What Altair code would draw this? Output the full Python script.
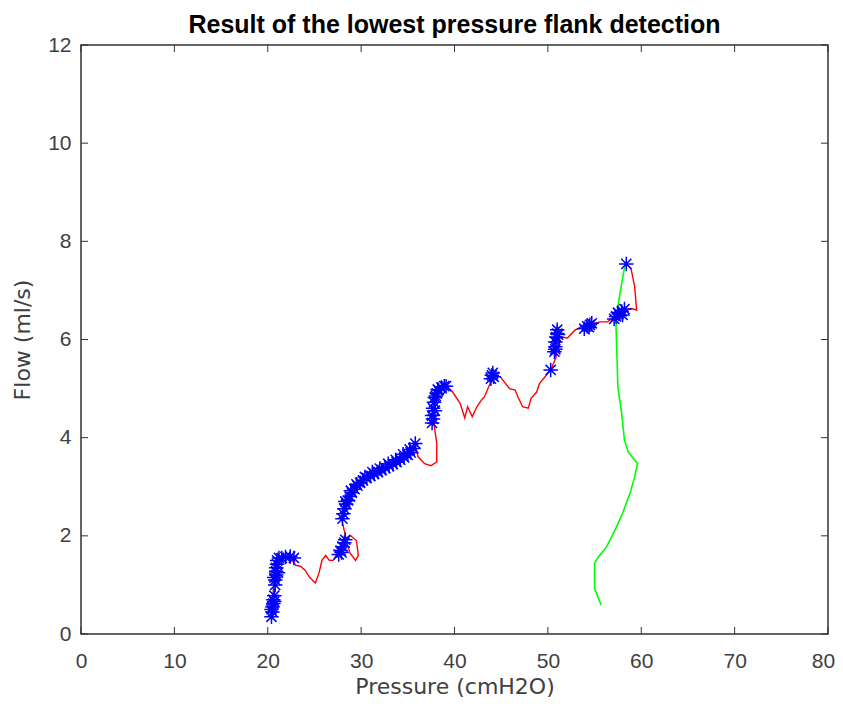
import altair as alt
import pandas as pd

# Red trace (pressure cmH2O, flow ml/s), in drawing order
red_p = [20.4, 20.5, 20.6, 20.8, 20.9, 21.3, 22.0, 22.6, 23.0, 23.5, 24.0, 24.5, 25.1, 25.5, 25.8, 26.2,
         26.6, 27.0, 27.5, 28.0, 28.4, 28.9, 29.5, 29.7, 29.4, 28.8, 28.5, 28.2, 27.9, 28.3, 28.8, 29.3,
         30.0, 30.8, 31.6, 32.4, 33.2, 34.0, 34.8, 35.4, 35.8, 36.1, 36.8, 37.5, 38.1, 38.1, 37.9, 37.8,
         38.0, 38.4, 39.1, 39.8, 40.6, 41.1, 41.4, 41.9, 42.4, 42.9, 43.2, 43.8, 44.1, 44.9, 45.9, 46.5,
         46.8, 47.3, 47.9, 48.2, 48.8, 49.1, 49.7, 50.3, 50.9, 50.8, 51.0, 51.2, 51.3, 52.1, 52.9, 53.5,
         54.2, 55.0, 55.6, 56.4, 57.0, 57.7, 58.5, 58.9, 59.5, 59.3, 58.9, 58.4]
red_f = [0.35, 0.6, 0.9, 1.2, 1.45, 1.55, 1.55, 1.5, 1.4, 1.38, 1.3, 1.15, 1.04, 1.25, 1.5, 1.6,
         1.5, 1.5, 1.65, 1.75, 1.95, 2.0, 1.9, 1.6, 1.5, 1.65, 1.85, 2.1, 2.35, 2.6, 2.8, 2.95,
         3.1, 3.2, 3.3, 3.38, 3.45, 3.55, 3.65, 3.75, 3.85, 3.61, 3.47, 3.43, 3.51, 3.89, 4.15, 4.4,
         4.7, 4.95, 5.07, 4.93, 4.70, 4.40, 4.63, 4.43, 4.63, 4.77, 4.83, 5.1, 5.27, 5.24, 5.0, 4.97,
         4.83, 4.63, 4.6, 4.8, 4.93, 5.1, 5.24, 5.38, 5.65, 5.9, 6.15, 5.9, 6.05, 6.03, 6.19, 6.25,
         6.3, 6.33, 6.36, 6.36, 6.45, 6.53, 6.6, 6.63, 6.6, 7.07, 7.45, 7.54]

# Green trace, in drawing order
green_p = [58.4, 58.2, 57.9, 57.5, 57.3, 57.4, 57.5, 57.9, 58.2, 58.6, 59.0, 59.6, 59.3, 58.8, 58.0,
           57.2, 56.3, 55.4, 55.0, 55.0, 55.7]
green_f = [7.54, 7.45, 7.15, 6.67, 6.26, 5.65, 5.03, 4.5, 3.95, 3.71, 3.61, 3.48, 3.2, 2.87, 2.46,
           2.12, 1.78, 1.57, 1.44, 0.93, 0.59]

# Detected points (blue asterisks)
star_p = [20.4, 20.5, 20.5, 20.6, 20.6, 20.7, 20.4, 20.7,
          20.8, 20.8, 20.9, 20.9, 20.9, 21.0, 21.0, 21.2, 21.5, 21.9, 22.4, 22.8, 21.1, 20.7,
          27.6, 27.8, 28.0, 28.2, 28.3, 27.9,
          28.0, 28.1, 28.2, 28.4, 28.6, 28.8, 29.0, 29.3, 29.6, 29.9, 30.2, 30.6, 31.0, 31.4, 31.8,
          32.2, 32.6, 33.0, 33.4, 33.8, 34.2, 34.6, 35.0, 35.3, 35.6, 35.8,
          28.3, 28.9, 29.5, 30.4, 31.2, 32.0, 32.9, 33.7, 34.5, 35.2,
          37.6, 37.6, 37.7, 37.8, 37.9, 38.1, 38.3, 38.6, 38.9, 39.1, 37.9, 38.0, 37.7, 38.2,
          43.9, 44.0, 44.1, 44.2,
          50.3,
          50.7, 50.8, 50.8, 50.9, 51.0, 51.0, 51.1, 50.8,
          53.9, 54.2, 54.5, 54.7, 54.4,
          57.1, 57.3, 57.6, 57.9, 58.2, 57.5, 58.0,
          58.4]
star_f = [0.35, 0.45, 0.55, 0.62, 0.7, 0.78, 0.5, 0.66,
          1.0, 1.1, 1.2, 1.28, 1.35, 1.42, 1.5, 1.55, 1.55, 1.57, 1.58, 1.55, 1.25, 1.15,
          1.62, 1.7, 1.78, 1.86, 1.92, 1.66,
          2.35, 2.45, 2.55, 2.65, 2.72, 2.8, 2.88, 2.95, 3.02, 3.08, 3.13, 3.18, 3.22, 3.26, 3.3,
          3.34, 3.38, 3.42, 3.46, 3.5, 3.55, 3.6, 3.65, 3.7, 3.78, 3.88,
          2.7, 2.92, 3.05, 3.2, 3.3, 3.37, 3.47, 3.55, 3.66, 3.76,
          4.3, 4.45, 4.6, 4.72, 4.82, 4.9, 4.97, 5.02, 5.05, 5.05, 4.55, 4.85, 4.38, 4.98,
          5.2, 5.27, 5.32, 5.24,
          5.38,
          5.75, 5.85, 5.95, 6.05, 6.12, 6.2, 6.1, 5.8,
          6.22, 6.27, 6.3, 6.33, 6.25,
          6.42, 6.47, 6.52, 6.57, 6.62, 6.55, 6.5,
          7.54]

x_ticks = [0, 10, 20, 30, 40, 50, 60, 70, 80]
y_ticks = [0, 2, 4, 6, 8, 10, 12]

W, H = 747, 589
TL = 7
AX = "#333333"

red = pd.DataFrame({"p": red_p, "f": red_f, "i": list(range(len(red_p)))})
green = pd.DataFrame({"p": green_p, "f": green_f, "i": list(range(len(green_p)))})
stars = pd.DataFrame({"p": star_p, "f": star_f})
xt = pd.DataFrame({"p": x_ticks})
yt = pd.DataFrame({"f": y_ticks})

xs = alt.Scale(domain=[0, 80], nice=False, zero=False)
ys = alt.Scale(domain=[0, 12], nice=False, zero=False)
xa = alt.Axis(values=x_ticks, ticks=False, domain=False, grid=False, title="Pressure (cmH2O)",
              labelFont="Liberation Sans", labelFontSize=21, labelColor="#404040", labelPadding=16,
              labelOffset={"condition": {"test": "datum.value == 80", "value": -5}, "value": 0},
              titleFont="DejaVu Sans", titleFontSize=22, titleFontWeight="normal", titleColor="#404040",
              titlePadding=5, labelFlush=False)
ya = alt.Axis(values=y_ticks, ticks=False, domain=False, grid=False, title="Flow (ml/s)",
              labelFont="Liberation Sans", labelFontSize=21, labelColor="#404040", labelPadding=10,
              titleFont="DejaVu Sans", titleFontSize=22, titleFontWeight="normal", titleColor="#404040",
              titlePadding=13, labelFlush=False)

X = alt.X("p:Q", scale=xs, axis=xa)
Y = alt.Y("f:Q", scale=ys, axis=ya)

star_shape = "M-1,0L1,0M0,-1L0,1M-0.7,-0.7L0.7,0.7M-0.7,0.7L0.7,-0.7"

red_line = alt.Chart(red).mark_line(color="#ff0000", strokeWidth=1.4).encode(x=X, y=Y, order="i:Q")
green_line = alt.Chart(green).mark_line(color="#00ff00", strokeWidth=1.6).encode(x=X, y=Y, order="i:Q")
star_pts = alt.Chart(stars).mark_point(shape=star_shape, size=210, filled=False, color="#0000ff",
                                       strokeWidth=1.5, opacity=1).encode(x=X, y=Y)

xt_bottom = alt.Chart(xt).mark_rule(color=AX, strokeWidth=1).encode(x=X, y=alt.value(H), y2=alt.value(H - TL))
xt_top = alt.Chart(xt).mark_rule(color=AX, strokeWidth=1).encode(x=X, y=alt.value(0), y2=alt.value(TL))
yt_left = alt.Chart(yt).mark_rule(color=AX, strokeWidth=1).encode(y=Y, x=alt.value(0), x2=alt.value(TL))
yt_right = alt.Chart(yt).mark_rule(color=AX, strokeWidth=1).encode(y=Y, x=alt.value(W), x2=alt.value(W - TL))

chart = alt.layer(red_line, green_line, star_pts, xt_bottom, xt_top, yt_left, yt_right).properties(
    width=W, height=H,
    title=alt.TitleParams("Result of the lowest pressure flank detection", font="Liberation Sans",
                          fontSize=25, fontWeight="bold", color="#000000", offset=-4, anchor="middle"),
    autosize=alt.AutoSizeParams(type="none"),
    padding={"left": 73, "top": 37, "right": 7, "bottom": 66},
).configure(background="white").configure_view(stroke=AX, strokeWidth=1.5)

chart.save("out.html", embed_options={"renderer": "svg", "actions": False})
